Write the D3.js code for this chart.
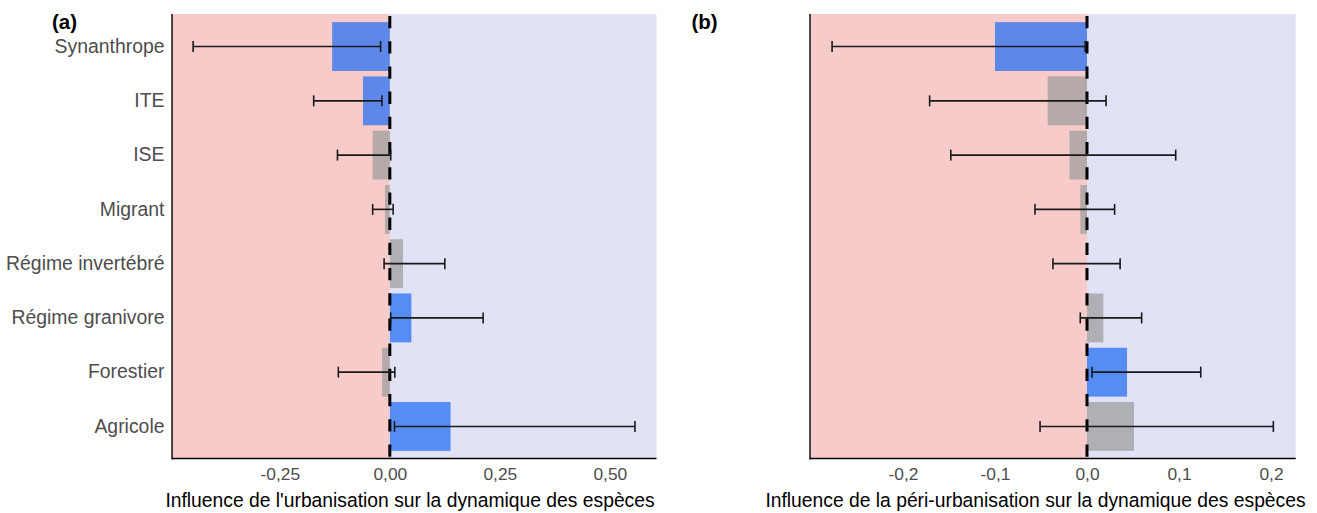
<!DOCTYPE html>
<html>
<head>
<meta charset="utf-8">
<script src="https://cdn.jsdelivr.net/npm/d3@7"></script>
<style>
  html, body { margin: 0; padding: 0; background: #ffffff; }
  svg { display: block; }
  text { font-family: "Liberation Sans", Arial, sans-serif; }
</style>
</head>
<body>
<svg id="chart" width="1317" height="513"></svg>
<script>
// ---- data ----
const categories = ["Synanthrope", "ITE", "ISE", "Migrant", "Régime invertébré", "Régime granivore", "Forestier", "Agricole"];

// Panel (a): urbanisation
const estA = [-0.131, -0.061, -0.039, -0.011, 0.030, 0.049, -0.0175, 0.138];
const lowA = [-0.447, -0.173, -0.119, -0.039, -0.013, 0.002, -0.117, 0.0106];
const highA = [-0.021, -0.018, 0.002, 0.0075, 0.125, 0.212, 0.0114, 0.557];
const ticksA = [-0.25, 0, 0.25, 0.5];
const tickLabelsA = ["-0,25", "0,00", "0,25", "0,50"];
const titleA = "Influence de l'urbanisation sur la dynamique des espèces";

// Panel (b): péri-urbanisation
const estB = [-0.100, -0.0427, -0.019, -0.0073, 0.0, 0.0178, 0.0435, 0.0511];
const lowB = [-0.277, -0.171, -0.148, -0.0565, -0.037, -0.0073, 0.0054, -0.051];
const highB = [-0.002, 0.0207, 0.0964, 0.030, 0.036, 0.0594, 0.1236, 0.2025];
const ticksB = [-0.2, -0.1, 0, 0.1, 0.2];
const tickLabelsB = ["-0,2", "-0,1", "0,0", "0,1", "0,2"];
const titleB = "Influence de la péri-urbanisation sur la dynamique des espèces";

const svg = d3.select("#chart");

const plotTop = 14, plotBottom = 459;

function panel(cfg) {
  const g = svg.append("g");
  const x = d3.scaleLinear().domain(cfg.domain).range([cfg.left, cfg.right]);
  const y = d3.scaleBand().domain(categories).range([plotTop, plotBottom])
    .paddingInner(0.1).paddingOuter(0.15);

  const rows = categories.map((c, i) => ({
    cat: c, est: cfg.est[i], lo: cfg.low[i], hi: cfg.high[i],
    sig: (cfg.low[i] > 0 || cfg.high[i] < 0)
  }));

  // backgrounds
  g.append("rect").attr("x", x(cfg.domain[0])).attr("y", plotTop)
    .attr("width", x(0) - x(cfg.domain[0])).attr("height", plotBottom - plotTop)
    .attr("fill", "#f8cbcb");
  g.append("rect").attr("x", x(0)).attr("y", plotTop)
    .attr("width", x(cfg.domain[1]) - x(0)).attr("height", plotBottom - plotTop)
    .attr("fill", "#e2e2f7");

  // bars
  g.selectAll("rect.bar").data(rows).enter().append("rect")
    .attr("class", "bar")
    .attr("x", d => x(Math.min(0, d.est)))
    .attr("width", d => Math.abs(x(d.est) - x(0)))
    .attr("y", d => y(d.cat))
    .attr("height", y.bandwidth())
    .attr("fill", d => d.sig ? "rgb(27,106,244)" : "#9a9a9a")
    .attr("fill-opacity", 0.7);

  // zero dashed line
  g.append("line")
    .attr("x1", x(0)).attr("x2", x(0))
    .attr("y1", plotTop).attr("y2", plotBottom)
    .attr("stroke", "#000").attr("stroke-width", 3)
    .attr("stroke-dasharray", "12.3 12.9")
    .attr("stroke-dashoffset", 23.2);

  // error bars
  const eb = g.selectAll("g.eb").data(rows).enter().append("g").attr("class", "eb");
  const cy = d => y(d.cat) + y.bandwidth() / 2;
  const cap = 5.5;
  eb.append("line").attr("x1", d => x(d.lo)).attr("x2", d => x(d.hi))
    .attr("y1", cy).attr("y2", cy);
  eb.append("line").attr("x1", d => x(d.lo)).attr("x2", d => x(d.lo))
    .attr("y1", d => cy(d) - cap).attr("y2", d => cy(d) + cap);
  eb.append("line").attr("x1", d => x(d.hi)).attr("x2", d => x(d.hi))
    .attr("y1", d => cy(d) - cap).attr("y2", d => cy(d) + cap);
  eb.selectAll("line").attr("stroke", "#1a1a1a").attr("stroke-width", 1.6);

  // x axis
  const xAxis = d3.axisBottom(x).tickValues(cfg.ticks)
    .tickFormat((d, i) => cfg.tickLabels[i]).tickSize(0).tickPadding(9);
  const ax = g.append("g").attr("transform", `translate(0,${plotBottom})`).call(xAxis);
  ax.select(".domain").remove();
  ax.selectAll("text").attr("fill", "#4d4d4d").style("font-size", "17.4px")
    .style("font-family", "'Liberation Sans', Arial, sans-serif");

  // y axis
  const yAxis = d3.axisLeft(y).tickSize(0).tickPadding(7.5)
    .tickFormat(cfg.showY ? (d => d) : (() => ""));
  const ay = g.append("g").attr("transform", `translate(${cfg.left},0)`).call(yAxis);
  ay.select(".domain").remove();
  ay.selectAll("text").attr("fill", "#4d4d4d").style("font-size", "19.4px")
    .style("font-family", "'Liberation Sans', Arial, sans-serif");

  // axis lines
  g.append("line").attr("x1", cfg.left).attr("x2", cfg.left)
    .attr("y1", plotTop).attr("y2", plotBottom + 0.5)
    .attr("stroke", "#000").attr("stroke-width", 1.4);
  g.append("line").attr("x1", cfg.left).attr("x2", cfg.right)
    .attr("y1", plotBottom - 0.5).attr("y2", plotBottom - 0.5)
    .attr("stroke", "#000").attr("stroke-width", 1.4);

  // axis title
  g.append("text").attr("x", cfg.titleX).attr("y", 507)
    .attr("text-anchor", "middle").attr("fill", "#000")
    .style("font-size", "19.3px").text(cfg.title);

  // panel tag
  g.append("text").attr("x", cfg.tagX).attr("y", 29)
    .attr("fill", "#000").style("font-size", "20.5px").style("font-weight", "bold")
    .text(cfg.tag);
}

panel({
  domain: [-0.495, 0.606], left: 172, right: 656.5,
  est: estA, low: lowA, high: highA,
  ticks: ticksA, tickLabels: tickLabelsA,
  title: titleA, titleX: 410, tag: "(a)", tagX: 52, showY: true
});

panel({
  domain: [-0.301, 0.2268], left: 810, right: 1295.7,
  est: estB, low: lowB, high: highB,
  ticks: ticksB, tickLabels: tickLabelsB,
  title: titleB, titleX: 1035.5, tag: "(b)", tagX: 691.5, showY: false
});
</script>
</body>
</html>
